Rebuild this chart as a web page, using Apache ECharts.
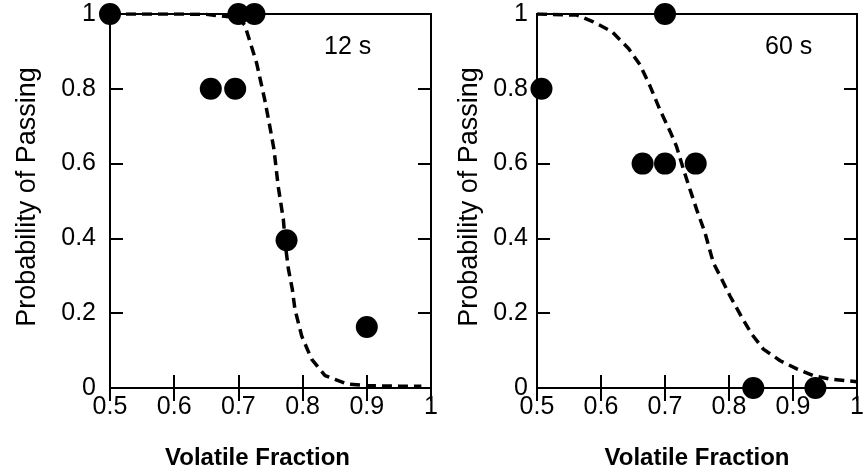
<!DOCTYPE html>
<html>
<head>
<meta charset="utf-8">
<script src="https://cdn.jsdelivr.net/npm/echarts@6/dist/echarts.min.js"></script>
<style>
html,body{margin:0;padding:0;background:#fff;}
#chart{width:867px;height:475px;}
</style>
</head>
<body>
<div id="chart"></div>
<script>
// ---- data ----
var xTickValues = [0.5, 0.6, 0.7, 0.8, 0.9, 1];
var xTickLabels = ['0.5', '0.6', '0.7', '0.8', '0.9', '1'];
var yTickValues = [0, 0.2, 0.4, 0.6, 0.8, 1];
var yTickLabels = ['0', '0.2', '0.4', '0.6', '0.8', '1'];

var panelTitles = ['12 s', '60 s'];
var xAxisTitle = 'Volatile Fraction';
var yAxisTitle = 'Probability of Passing';

// 12 s observed points
var obs12X = [0.5, 0.70, 0.725, 0.657, 0.695, 0.775, 0.90];
var obs12Y = [1.0, 1.0, 1.0, 0.8, 0.8, 0.395, 0.163];
// 12 s fitted curve
var fit12X = [0.5, 0.55, 0.6, 0.65, 0.70, 0.71, 0.7155, 0.7285, 0.741, 0.749, 0.7555, 0.762, 0.770, 0.774, 0.778, 0.784, 0.788, 0.7986, 0.814, 0.835, 0.869, 0.90, 0.95, 0.985];
var fit12Y = [1.0, 1.0, 1.0, 0.999, 0.99, 0.97, 0.94, 0.868, 0.771, 0.699, 0.637, 0.539, 0.451, 0.371, 0.317, 0.264, 0.211, 0.139, 0.077, 0.033, 0.011, 0.006, 0.005, 0.005];

// 60 s observed points
var obs60X = [0.507, 0.70, 0.665, 0.70, 0.748, 0.838, 0.935];
var obs60Y = [0.8, 1.0, 0.6, 0.6, 0.6, 0.0, 0.0];
// 60 s fitted curve
var fit60X = [0.5, 0.562, 0.588, 0.617, 0.643, 0.661, 0.677, 0.692, 0.708, 0.718, 0.729, 0.739, 0.7495, 0.7625, 0.7755, 0.7886, 0.8016, 0.820, 0.8355, 0.8536, 0.88, 0.906, 0.9317, 0.958, 1.0];
var fit60Y = [1.0, 0.997, 0.979, 0.953, 0.908, 0.864, 0.806, 0.744, 0.686, 0.646, 0.584, 0.531, 0.477, 0.415, 0.335, 0.291, 0.246, 0.189, 0.144, 0.104, 0.073, 0.051, 0.033, 0.024, 0.017];

// ---- helpers ----
function zip(a, b) { return a.map(function (v, i) { return [v, b[i]]; }); }
function lookup(vals, labels) {
  return function (v) {
    for (var i = 0; i < vals.length; i++) if (Math.abs(vals[i] - v) < 1e-6) return labels[i];
    return '';
  };
}
var FONT = '"Liberation Sans", Arial, Helvetica, sans-serif';
var BLACK = '#000';

var grids = [
  { left: 110, top: 14, width: 321, height: 375, show: true, borderColor: BLACK, borderWidth: 2 },
  { left: 537, top: 14, width: 320, height: 375, show: true, borderColor: BLACK, borderWidth: 2 }
];

function xAxes(gi, nameShift) {
  return [
    {
      type: 'value', gridIndex: gi, position: 'bottom', min: 0.5, max: 1, interval: 0.1,
      axisLine: { show: true, lineStyle: { color: BLACK, width: 2 } },
      axisTick: { show: true, inside: true, length: 13, lineStyle: { color: BLACK, width: 2 } },
      splitLine: { show: false },
      axisLabel: { show: true, formatter: lookup(xTickValues, xTickLabels), color: BLACK, fontSize: 25, fontFamily: FONT, margin: 7 },
      name: xAxisTitle, nameLocation: 'middle', nameGap: 58,
      nameTextStyle: { color: BLACK, fontSize: 24, fontWeight: 'bold', fontFamily: FONT, padding: nameShift }
    },
    {
      type: 'value', gridIndex: gi, position: 'top', min: 0.5, max: 1, interval: 0.1,
      axisLine: { show: true, lineStyle: { color: BLACK, width: 2 } },
      axisTick: { show: true, inside: true, length: 13, lineStyle: { color: BLACK, width: 2 } },
      splitLine: { show: false },
      axisLabel: { show: false }
    }
  ];
}
function yAxes(gi, gap, labelMargin) {
  return [
    {
      type: 'value', gridIndex: gi, position: 'left', min: 0, max: 1, interval: 0.2,
      axisLine: { show: true, lineStyle: { color: BLACK, width: 2 } },
      axisTick: { show: true, inside: true, length: 13, lineStyle: { color: BLACK, width: 2 } },
      splitLine: { show: false },
      axisLabel: { show: true, formatter: lookup(yTickValues, yTickLabels), color: BLACK, fontSize: 25, fontFamily: FONT, margin: labelMargin, padding: [7, 0, 0, 0] },
      name: yAxisTitle, nameLocation: 'middle', nameGap: gap, nameRotate: 90,
      nameTextStyle: { color: BLACK, fontSize: 27, fontFamily: FONT, padding: [0, 0, 0, 8] }
    },
    {
      type: 'value', gridIndex: gi, position: 'right', min: 0, max: 1, interval: 0.2,
      axisLine: { show: true, lineStyle: { color: BLACK, width: 2 } },
      axisTick: { show: true, inside: true, length: 13, lineStyle: { color: BLACK, width: 2 } },
      splitLine: { show: false },
      axisLabel: { show: false }
    }
  ];
}

var dashStyle = { color: BLACK, width: 3.5, type: [10, 6] };

var option = {
  backgroundColor: '#fff',
  animation: false,
  title: [
    { text: panelTitles[0], left: 319, top: 30, textStyle: { color: BLACK, fontSize: 25, fontWeight: 'normal', fontFamily: FONT } },
    { text: panelTitles[1], left: 760, top: 30, textStyle: { color: BLACK, fontSize: 25, fontWeight: 'normal', fontFamily: FONT } }
  ],
  grid: grids,
  xAxis: xAxes(0, [0, 26, 0, 0]).concat(xAxes(1, [0, 0, 0, 0])),
  yAxis: yAxes(0, 69, 14).concat(yAxes(1, 54, 9)),
  series: [
    { type: 'line', xAxisIndex: 0, yAxisIndex: 0, data: zip(fit12X, fit12Y), symbol: 'none', smooth: false, lineStyle: dashStyle, z: 2 },
    { type: 'scatter', xAxisIndex: 0, yAxisIndex: 0, data: zip(obs12X, obs12Y), symbol: 'circle', symbolSize: 22, itemStyle: { color: BLACK, opacity: 1 }, clip: false, z: 3 },
    { type: 'line', xAxisIndex: 2, yAxisIndex: 2, data: zip(fit60X, fit60Y), symbol: 'none', smooth: false, lineStyle: dashStyle, z: 2 },
    { type: 'scatter', xAxisIndex: 2, yAxisIndex: 2, data: zip(obs60X, obs60Y), symbol: 'circle', symbolSize: 22, itemStyle: { color: BLACK, opacity: 1 }, clip: false, z: 3 }
  ]
};

var chart = echarts.init(document.getElementById('chart'), null, { renderer: 'canvas' });
chart.setOption(option);
</script>
</body>
</html>
